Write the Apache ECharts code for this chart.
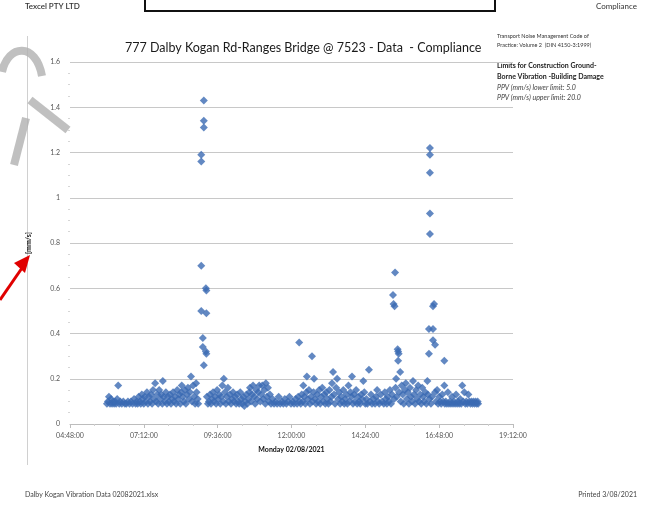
<!DOCTYPE html>
<html>
<head>
<meta charset="utf-8">
<script src="https://cdn.jsdelivr.net/npm/echarts@6/dist/echarts.min.js"></script>
<style>
  html, body { margin: 0; padding: 0; background: #fff; }
  #chart { width: 653px; height: 510px; }
</style>
</head>
<body>
<div id="chart"></div>
<script>
// PPV readings, [time, mm/s]
const h06 = [['06:00',0.09],['06:02',0.10],['06:04',0.12],['06:06',0.09],['06:08',0.11],['06:10',0.09],['06:12',0.10],['06:14',0.09],['06:16',0.10],['06:18',0.09],['06:20',0.11],['06:22',0.17],['06:24',0.09],['06:26',0.10],['06:29',0.09],['06:32',0.10],['06:35',0.09],['06:38',0.09],['06:41',0.10],['06:44',0.09],['06:47',0.10],['06:50',0.09],['06:53',0.11],['06:56',0.09],['06:58',0.10]]
const h07 = [['07:00',0.09],['07:02',0.12],['07:04',0.10],['07:06',0.09],['07:08',0.13],['07:10',0.11],['07:12',0.09],['07:14',0.12],['07:16',0.10],['07:18',0.14],['07:20',0.09],['07:22',0.12],['07:24',0.10],['07:26',0.13],['07:28',0.09],['07:30',0.15],['07:32',0.11],['07:34',0.18],['07:36',0.10],['07:38',0.13],['07:40',0.09],['07:42',0.15],['07:44',0.11],['07:46',0.13],['07:48',0.09],['07:49',0.19],['07:51',0.12],['07:53',0.10],['07:55',0.14],['07:57',0.09],['07:59',0.12]]
const h08 = [['08:01',0.10],['08:03',0.13],['08:05',0.09],['08:07',0.11],['08:09',0.14],['08:11',0.10],['08:13',0.12],['08:15',0.09],['08:17',0.15],['08:19',0.11],['08:21',0.13],['08:23',0.09],['08:25',0.14],['08:26',0.17],['08:28',0.12],['08:30',0.10],['08:32',0.15],['08:34',0.09],['08:36',0.13],['08:38',0.16],['08:40',0.11],['08:42',0.14],['08:44',0.21],['08:46',0.10],['08:48',0.17],['08:50',0.12],['08:52',0.09],['08:54',0.18],['08:55',0.14],['08:57',0.11],['08:58',0.09]]
const h09 = [['09:04',1.19],['09:04',1.16],['09:04',0.70],['09:04',0.50],['09:07',0.38],['09:07',0.34],['09:09',1.43],['09:09',1.34],['09:09',1.31],['09:09',0.26],['09:13',0.60],['09:14',0.59],['09:14',0.49],['09:13',0.32],['09:14',0.31],
  ['09:15',0.12],['09:17',0.09],['09:19',0.10],['09:21',0.13],['09:23',0.09],['09:25',0.11],['09:27',0.14],['09:29',0.10],['09:31',0.12],['09:33',0.09],['09:35',0.15],['09:37',0.11],['09:39',0.13],['09:41',0.09],['09:43',0.12],['09:45',0.17],['09:47',0.10],['09:48',0.20],['09:50',0.14],['09:52',0.09],['09:54',0.12],['09:56',0.16],['09:58',0.10]]
const h10 = [['10:00',0.13],['10:02',0.09],['10:04',0.11],['10:06',0.14],['10:08',0.10],['10:10',0.12],['10:12',0.09],['10:14',0.13],['10:16',0.10],['10:18',0.09],['10:20',0.14],['10:22',0.11],['10:24',0.09],['10:26',0.12],['10:28',0.08],['10:30',0.10],['10:32',0.13],['10:34',0.09],['10:36',0.11],['10:38',0.14],['10:39',0.16],['10:41',0.10],['10:43',0.13],['10:45',0.17],['10:47',0.12],['10:49',0.09],['10:51',0.15],['10:53',0.11],['10:55',0.14],['10:57',0.17],['10:59',0.10]]
const h11 = [['11:01',0.13],['11:03',0.17],['11:05',0.11],['11:07',0.15],['11:09',0.09],['11:10',0.18],['11:12',0.12],['11:14',0.16],['11:16',0.10],['11:18',0.13],['11:20',0.09],['11:23',0.11],['11:26',0.09],['11:29',0.10],['11:32',0.09],['11:35',0.12],['11:38',0.09],['11:41',0.10],['11:44',0.09],['11:47',0.11],['11:50',0.09],['11:53',0.10],['11:56',0.12],['11:59',0.09]]
const h12 = [['12:02',0.10],['12:05',0.09],['12:08',0.11],['12:11',0.09],['12:13',0.12],['12:15',0.36],['12:16',0.10],['12:18',0.09],['12:20',0.13],['12:22',0.10],['12:23',0.17],['12:25',0.12],['12:27',0.09],['12:29',0.14],['12:30',0.21],['12:32',0.11],['12:34',0.15],['12:36',0.09],['12:38',0.12],['12:40',0.30],['12:41',0.10],['12:43',0.14],['12:44',0.20],['12:46',0.11],['12:48',0.09],['12:50',0.13],['12:52',0.10],['12:54',0.15],['12:56',0.09],['12:58',0.12]]
const h13 = [['13:00',0.16],['13:02',0.10],['13:04',0.13],['13:06',0.09],['13:08',0.14],['13:10',0.11],['13:12',0.09],['13:14',0.15],['13:16',0.10],['13:18',0.12],['13:19',0.18],['13:21',0.23],['13:23',0.13],['13:25',0.09],['13:27',0.16],['13:29',0.20],['13:31',0.11],['13:33',0.14],['13:35',0.09],['13:37',0.12],['13:39',0.10],['13:41',0.15],['13:43',0.09],['13:45',0.11],['13:47',0.13],['13:49',0.09],['13:51',0.17],['13:53',0.10],['13:55',0.14],['13:57',0.12],['13:58',0.21]]
const h14 = [['14:00',0.09],['14:02',0.13],['14:04',0.10],['14:06',0.15],['14:08',0.09],['14:10',0.12],['14:12',0.10],['14:14',0.09],['14:16',0.13],['14:18',0.11],['14:20',0.19],['14:22',0.14],['14:24',0.09],['14:26',0.11],['14:28',0.09],['14:31',0.24],['14:33',0.10],['14:35',0.13],['14:37',0.09],['14:40',0.11],['14:43',0.09],['14:45',0.12],['14:47',0.15],['14:49',0.10],['14:51',0.09],['14:54',0.13],['14:57',0.10]]
const h15 = [['15:00',0.09],['15:02',0.14],['15:04',0.11],['15:06',0.09],['15:08',0.12],['15:10',0.10],['15:12',0.15],['15:14',0.09],['15:16',0.13],['15:18',0.57],['15:19',0.53],['15:20',0.11],['15:21',0.52],['15:22',0.67],['15:23',0.16],['15:24',0.20],['15:25',0.12],['15:27',0.33],['15:28',0.32],['15:28',0.28],['15:29',0.31],['15:30',0.14],['15:32',0.23],['15:33',0.10],['15:35',0.17],['15:37',0.13],['15:39',0.09],['15:41',0.15],['15:43',0.18],['15:45',0.11],['15:47',0.14],['15:49',0.09],['15:51',0.16],['15:53',0.12],['15:55',0.10],['15:57',0.19],['15:59',0.13]]
const h16 = [['16:01',0.09],['16:03',0.15],['16:05',0.11],['16:07',0.17],['16:09',0.10],['16:11',0.13],['16:13',0.09],['16:15',0.16],['16:17',0.12],['16:19',0.10],['16:21',0.14],['16:23',0.09],['16:25',0.19],['16:26',0.13],['16:28',0.42],['16:28',0.31],['16:29',0.11],['16:30',1.22],['16:30',1.19],['16:30',1.11],['16:30',0.93],['16:30',0.84],['16:32',0.09],['16:34',0.12],['16:36',0.52],['16:36',0.42],['16:36',0.37],['16:38',0.53],['16:40',0.35],['16:40',0.14],['16:42',0.10],['16:44',0.15],['16:46',0.09],['16:48',0.12],['16:50',0.10],['16:52',0.09],['16:54',0.13],['16:56',0.10],['16:58',0.28],['16:58',0.17],['16:59',0.09]]
const h17 = [['17:01',0.10],['17:03',0.09],['17:05',0.14],['17:07',0.09],['17:09',0.10],['17:11',0.09],['17:13',0.12],['17:15',0.09],['17:17',0.10],['17:19',0.09],['17:21',0.13],['17:23',0.09],['17:25',0.10],['17:27',0.09],['17:29',0.11],['17:31',0.09],['17:33',0.17],['17:35',0.10],['17:37',0.14],['17:39',0.09],['17:41',0.10],['17:43',0.09],['17:45',0.13],['17:47',0.10],['17:49',0.09],['17:51',0.10],['17:53',0.09],['17:55',0.10],['17:57',0.09],['17:59',0.10]]
const h18 = [['18:01',0.09],['18:03',0.10],['18:04',0.09]]

// axis: minutes of the day, 04:48 .. 19:12 every 2h24
const xMin = 288
const xMax = 1152
const xStep = 144

function toMin(t) {
  const p = t.split(':')
  return Number(p[0]) * 60 + Number(p[1])
}
function pad(n) {
  return (n < 10 ? '0' : '') + n
}

const points = [].concat(h06, h07, h08, h09, h10, h11, h12, h13, h14, h15, h16, h17, h18)
  .map(p => [toMin(p[0]), p[1]])

const myChart = echarts.init(document.getElementById('chart'))
const font = 'Lato, "Open Sans", sans-serif'

const option = {
  animation: false,
  grid: { left: 70, right: 140, top: 62, bottom: 86 },
  title: {
    text: '777 Dalby Kogan Rd-Ranges Bridge @ 7523 - Data  - Compliance',
    left: 120,
    top: 36,
    textStyle: { fontFamily: font, fontSize: 12.5, fontWeight: 'normal', color: '#1a1a1a' }
  },
  xAxis: {
    type: 'value',
    min: xMin,
    max: xMax,
    interval: xStep,
    name: 'Monday 02/08/2021',
    nameLocation: 'middle',
    nameGap: 22,
    nameTextStyle: { fontFamily: font, fontSize: 7, fontWeight: 'bold', color: '#111' },
    axisLine: { lineStyle: { color: '#bdbdbd' } },
    axisTick: { length: 4, lineStyle: { color: '#bdbdbd' } },
    minorTick: { show: true, splitNumber: 3, length: 2, lineStyle: { color: '#cfcfcf' } },
    splitLine: { show: false },
    axisLabel: {
      fontFamily: font, fontSize: 7, color: '#555', margin: 8,
      formatter: v => pad(Math.floor(v / 60)) + ':' + pad(v % 60) + ':00'
    }
  },
  yAxis: {
    type: 'value',
    min: 0,
    max: 1.6,
    interval: 0.2,
    name: '[mm/s]',
    nameLocation: 'middle',
    nameRotate: 90,
    nameGap: 38,
    nameTextStyle: { fontFamily: font, fontSize: 7, fontWeight: 'bold', color: '#111' },
    axisLine: { show: false },
    axisTick: { show: false },
    minorTick: { show: true, splitNumber: 4, length: 2, lineStyle: { color: '#d6d6d6' } },
    splitLine: { lineStyle: { color: '#c8c8c8' } },
    axisLabel: { fontFamily: font, fontSize: 7, color: '#555', margin: 10 }
  },
  series: [{
    type: 'scatter',
    symbol: 'diamond',
    symbolSize: 8,
    itemStyle: { color: '#3b6ab3' },
    data: points
  }],
  graphic: [
    // page header / footer of the printout
    { type: 'rect', shape: { x: 145, y: -12, width: 350, height: 23 }, style: { fill: 'none', stroke: '#111', lineWidth: 2 } },
    { type: 'text', x: 25, y: 2, style: { text: 'Texcel PTY LTD', font: '600 8px ' + font, fill: '#333' } },
    { type: 'text', x: 637, y: 2, style: { text: 'Compliance', font: '8px ' + font, fill: '#333', textAlign: 'right' } },
    { type: 'text', x: 25, y: 491, style: { text: 'Dalby Kogan Vibration Data 02082021.xlsx', font: '7px ' + font, fill: '#444' } },
    { type: 'text', x: 637, y: 491, style: { text: 'Printed 3/08/2021', font: '7px ' + font, fill: '#444', textAlign: 'right' } },
    { type: 'line', shape: { x1: 27.5, y1: 36, x2: 27.5, y2: 465 }, style: { stroke: '#d0d0d0', lineWidth: 1 } },
    // notes at the right of the title
    { type: 'text', x: 497, y: 33, style: { text: 'Transport Noise Management Code of', font: '5.5px ' + font, fill: '#333' } },
    { type: 'text', x: 497, y: 42, style: { text: 'Practice: Volume 2  (DIN 4150-3:1999)', font: '5.5px ' + font, fill: '#333' } },
    { type: 'text', x: 497, y: 62, style: { text: 'Limits for Construction Ground-', font: 'bold 7px ' + font, fill: '#222' } },
    { type: 'text', x: 497, y: 73, style: { text: 'Borne Vibration -Building Damage', font: 'bold 7px ' + font, fill: '#222' } },
    { type: 'text', x: 497, y: 84, style: { text: 'PPV (mm/s) lower limit: 5.0', font: 'italic 7px ' + font, fill: '#444' } },
    { type: 'text', x: 497, y: 94, style: { text: 'PPV (mm/s) upper limit: 20.0', font: 'italic 7px ' + font, fill: '#444' } },
    // scan marks: grey stamp stroke and red arrow
    { type: 'bezierCurve', shape: { x1: 2, y1: 72, cpx1: 8, cpy1: 44, cpx2: 36, cpy2: 42, x2: 42, y2: 76 }, style: { fill: 'none', stroke: '#b0b0b0', lineWidth: 8, opacity: 0.8 } },
    { type: 'line', shape: { x1: 30, y1: 100, x2: 68, y2: 130 }, style: { stroke: '#b0b0b0', lineWidth: 8, opacity: 0.8 } },
    { type: 'line', shape: { x1: 26, y1: 118, x2: 14, y2: 165 }, style: { stroke: '#b0b0b0', lineWidth: 8, opacity: 0.8 } },
    { type: 'line', shape: { x1: 0, y1: 300, x2: 22, y2: 268 }, style: { stroke: '#e00000', lineWidth: 3 } },
    { type: 'polygon', shape: { points: [[30, 255], [14, 263], [25, 273]] }, style: { fill: '#e00000' } }
  ]
}

myChart.setOption(option)
</script>
</body>
</html>
